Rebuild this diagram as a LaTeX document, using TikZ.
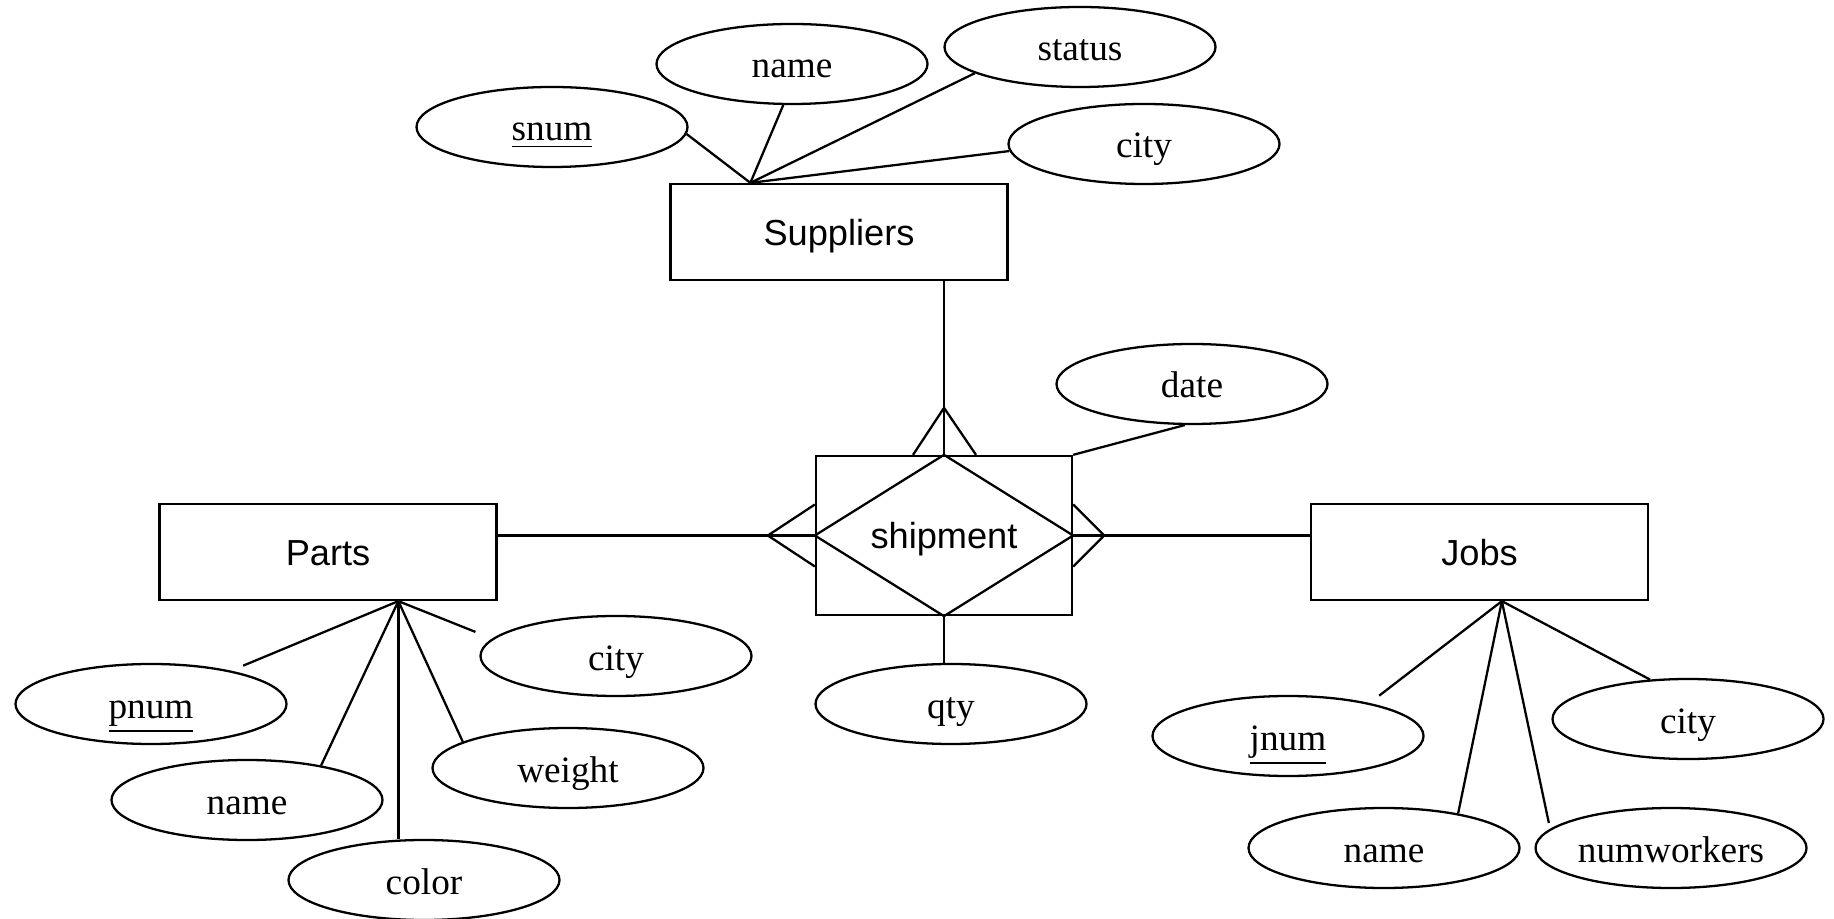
\documentclass[tikz,border=0pt]{standalone}
\usepackage{fontspec}
\setmainfont{Liberation Serif}
\setsansfont{Liberation Sans}
\usetikzlibrary{shapes.geometric,calc}

\begin{document}
\begin{tikzpicture}[line width=0.65pt,
        attr/.style={draw,ellipse,inner sep=0pt,minimum width=2.71cm,minimum height=0.8cm,text height=0.28cm,text depth=0cm,font=\fontsize{10.6}{12}\selectfont},
        entity/.style={draw,rectangle,inner sep=0pt,minimum width=3.37cm,minimum height=0.96cm,text height=0.28cm,text depth=0cm,font=\sffamily\fontsize{10.3}{12}\selectfont},
        gap/.style={shorten >=#1}]
    \useasboundingbox (0,0) rectangle (18.34,-9.19);
        \node[entity] (sup) at (8.39,-2.32) {Suppliers};
        \node[entity] (parts) at (3.28,-5.52) {Parts};
        \node[entity] (jobs) at (14.795,-5.52) {Jobs};
        \node[entity,minimum width=2.56cm,minimum height=1.59cm,text height=0.27cm] (ship) at (9.44,-5.355) {shipment};
        \draw (ship.north) -- (ship.east) -- (ship.south) -- (ship.west) -- cycle;
        \node[attr] (date) at (11.92,-3.84) {date};
        \node[attr] (qty) at (9.51,-7.04) {qty};
        \node[attr] (snum) at (5.52,-1.27) {\underline{snum}};
        \node[attr] (sname) at (7.92,-0.64) {name};
        \node[attr] (sstatus) at (10.80,-0.47) {status};
        \node[attr] (scity) at (11.44,-1.44) {city};
        \node[attr] (pnum) at (1.51,-7.04) {\underline{pnum}};
        \node[attr] (pname) at (2.47,-8.00) {name};
        \node[attr] (pcolor) at (4.24,-8.80) {color};
        \node[attr] (pweight) at (5.68,-7.68) {weight};
        \node[attr] (pcity) at (6.16,-6.56) {city};
        \node[attr] (jnum) at (12.88,-7.36) {\underline{jnum}};
        \node[attr] (jname) at (13.84,-8.48) {name};
        \node[attr] (jworkers) at (16.71,-8.48) {numworkers};
        \node[attr] (jcity) at (16.88,-7.19) {city};
        \coordinate (supjoint) at ($(sup.north west)+(0.81,0)$);
        \coordinate (pjoint) at ($(parts.south west)+(2.40,0)$);
        \coordinate (jjoint) at ($(jobs.south west)+(1.92,0)$);
        \draw (supjoint) -- (snum.-3);
        \draw (supjoint) -- (sname.258);
        \draw (supjoint) -- (sstatus.194);
        \draw (supjoint) -- (scity.183);
        \draw[gap=0.13cm] (pjoint) -- (pnum);
        \draw (pjoint) -- (pname.25);
        \draw (pjoint) -- (pjoint |- pcolor.north);
        \draw (pjoint) -- (pweight.166);
        \draw[gap=0.18cm] (pjoint) -- (pcity.172);
        \draw[gap=0.12cm] (jjoint) -- (jnum.22);
        \draw (jjoint) -- (jname.25);
        \draw[gap=0.06cm] (jjoint) -- (jworkers.171);
        \draw (jjoint) -- (jcity.134);
        \draw (ship.north east) -- (date.260);
        \draw (ship.south) -- (ship.south |- qty.north);
        \draw (ship.north) -- (ship.north |- sup.south);
        \draw (ship.west) -- (ship.west -| parts.east);
        \draw (ship.east) -- (ship.east -| jobs.west);
        \draw ($(ship.north)+(-0.31,0)$) -- ($(ship.north)+(0,0.47)$) -- ($(ship.north)+(0.32,0)$);
        \draw ($(ship.west)+(0,0.31)$) -- ($(ship.west)+(-0.47,0)$) -- ($(ship.west)+(0,-0.31)$);
        \draw ($(ship.east)+(0,0.31)$) -- ($(ship.east)+(0.31,0)$) -- ($(ship.east)+(0,-0.31)$);
    \end{tikzpicture}
\end{document}
